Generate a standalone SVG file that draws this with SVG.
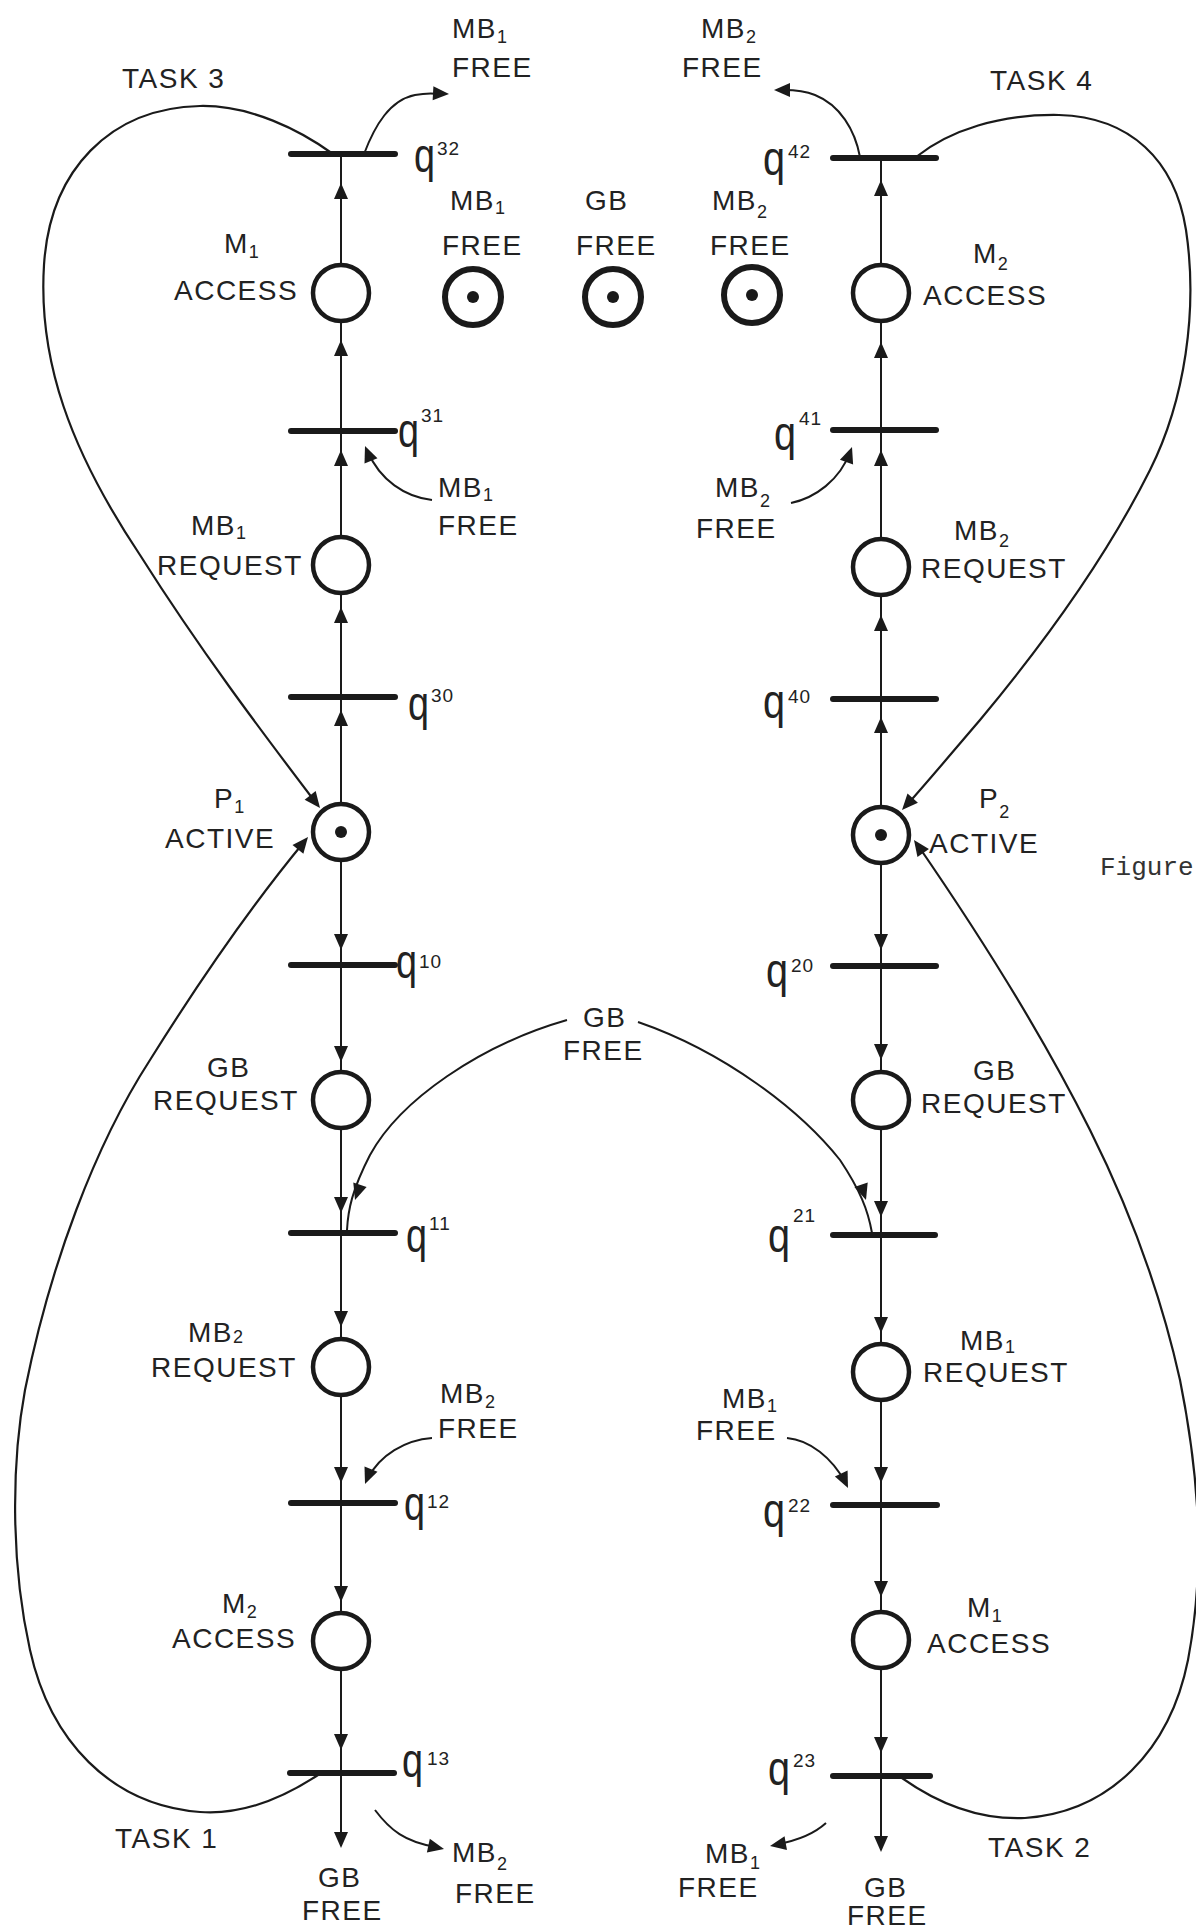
<svg xmlns="http://www.w3.org/2000/svg" width="1196" height="1928" viewBox="0 0 1196 1928">
<style>
.t{font-family:"Liberation Sans",Arial,sans-serif;font-size:28px;fill:#222;letter-spacing:1.5px}
.sb{font-size:18px;letter-spacing:0}
.q{font-family:"Liberation Sans",Arial,sans-serif;font-size:48px;fill:#222}
.sp{font-family:"Liberation Sans",Arial,sans-serif;font-size:19px;fill:#222;letter-spacing:1px}
.pl{fill:#fff;stroke:#1a1a1a;stroke-width:4.5}
.res{fill:#fff;stroke:#1a1a1a;stroke-width:6}
.tok{fill:#1a1a1a}
.bar{stroke:#1a1a1a;stroke-width:6;stroke-linecap:round}
.ln{fill:none;stroke:#1a1a1a;stroke-width:2}
.cv{fill:none;stroke:#1a1a1a;stroke-width:2.2}
.fig{font-family:"Liberation Mono","Courier New",monospace;font-size:26px;fill:#333}
</style>
<defs>
<path id="ah" d="M0,0 L-16,-7 L-16,7 Z" fill="#1a1a1a"/>
</defs>
<rect width="1196" height="1928" fill="#fff"/>

<g id="connectors">
  <line class="ln" x1="341" y1="154" x2="341" y2="1846"/>
  <line class="ln" x1="881" y1="158" x2="881" y2="1850"/>
  <use href="#ah" transform="translate(341,183) rotate(-90)"/>
  <use href="#ah" transform="translate(341,340) rotate(-90)"/>
  <use href="#ah" transform="translate(341,450) rotate(-90)"/>
  <use href="#ah" transform="translate(341,607) rotate(-90)"/>
  <use href="#ah" transform="translate(341,710) rotate(-90)"/>
  <use href="#ah" transform="translate(341,950) rotate(90)"/>
  <use href="#ah" transform="translate(341,1062) rotate(90)"/>
  <use href="#ah" transform="translate(341,1213) rotate(90)"/>
  <use href="#ah" transform="translate(341,1327) rotate(90)"/>
  <use href="#ah" transform="translate(341,1483) rotate(90)"/>
  <use href="#ah" transform="translate(341,1602) rotate(90)"/>
  <use href="#ah" transform="translate(341,1750) rotate(90)"/>
  <use href="#ah" transform="translate(341,1848) rotate(90)"/>
  <use href="#ah" transform="translate(881,180) rotate(-90)"/>
  <use href="#ah" transform="translate(881,342) rotate(-90)"/>
  <use href="#ah" transform="translate(881,450) rotate(-90)"/>
  <use href="#ah" transform="translate(881,615) rotate(-90)"/>
  <use href="#ah" transform="translate(881,717) rotate(-90)"/>
  <use href="#ah" transform="translate(881,950) rotate(90)"/>
  <use href="#ah" transform="translate(881,1060) rotate(90)"/>
  <use href="#ah" transform="translate(881,1217) rotate(90)"/>
  <use href="#ah" transform="translate(881,1333) rotate(90)"/>
  <use href="#ah" transform="translate(881,1483) rotate(90)"/>
  <use href="#ah" transform="translate(881,1597) rotate(90)"/>
  <use href="#ah" transform="translate(881,1753) rotate(90)"/>
  <use href="#ah" transform="translate(881,1852) rotate(90)"/>

  <path class="cv" d="M333,154 C300,130 250,105 200,106 C110,108 50,170 44,265 C38,360 70,450 140,555 C200,650 262,732 316,803"/>
  <use href="#ah" transform="translate(320,808) rotate(52)"/>
  <path class="cv" d="M318,1775 C280,1800 240,1815 200,1812 C110,1805 50,1740 30,1650 C10,1560 12,1460 25,1390 C50,1265 95,1145 150,1060 C200,980 252,905 304,842"/>
  <use href="#ah" transform="translate(308,837) rotate(-51)"/>
  <path class="cv" d="M916,157 C950,130 1000,114 1059,115 C1130,117 1175,160 1186,230 C1198,310 1185,400 1150,470 C1100,570 1030,660 980,720 C950,755 925,785 905,807"/>
  <use href="#ah" transform="translate(902,810) rotate(132)"/>
  <path class="cv" d="M902,1778 C940,1805 980,1820 1025,1818 C1110,1812 1170,1750 1188,1660 C1205,1570 1200,1480 1180,1380 C1160,1290 1130,1210 1090,1130 C1050,1050 990,950 917,844"/>
  <use href="#ah" transform="translate(914,840) rotate(-125)"/>

  <path class="ln" d="M567,1020 C480,1045 400,1100 370,1155 C352,1190 348,1210 347,1230"/>
  <use href="#ah" transform="translate(355,1200) rotate(108)"/>
  <path class="ln" d="M638,1022 C725,1052 800,1110 840,1160 C860,1190 868,1210 872,1233"/>
  <use href="#ah" transform="translate(866,1200) rotate(72)"/>

  <path class="ln" d="M432,500 C405,497 380,480 368,452"/>
  <use href="#ah" transform="translate(365,446) rotate(-112)"/>
  <path class="ln" d="M791,503 C815,498 840,480 850,452"/>
  <use href="#ah" transform="translate(852,447) rotate(-70)"/>
  <path class="ln" d="M432,1438 C405,1440 380,1455 368,1478"/>
  <use href="#ah" transform="translate(365,1484) rotate(112)"/>
  <path class="ln" d="M787,1438 C810,1440 832,1458 845,1482"/>
  <use href="#ah" transform="translate(848,1488) rotate(65)"/>
  <path class="ln" d="M375,1810 C390,1830 405,1842 436,1847"/>
  <use href="#ah" transform="translate(444,1849) rotate(12)"/>
  <path class="ln" d="M826,1823 C815,1833 800,1840 778,1844"/>
  <use href="#ah" transform="translate(770,1846) rotate(170)"/>
  <path class="ln" d="M364,154 C375,125 390,100 415,95 C425,93 432,93 440,94"/>
  <use href="#ah" transform="translate(449,94) rotate(3)"/>
  <path class="ln" d="M860,157 C855,130 840,105 815,95 C805,91 795,90 784,90"/>
  <use href="#ah" transform="translate(774,90) rotate(180)"/>
</g>

<g id="p-m1-access-l">
  <circle class="pl" cx="341" cy="293" r="28"/>
  <text class="t" x="224" y="253">M<tspan class="sb" dy="5">1</tspan></text>
  <text class="t" x="174" y="300">ACCESS</text>
</g>
<g id="p-mb1-request-l">
  <circle class="pl" cx="341" cy="565" r="28"/>
  <text class="t" x="191" y="535">MB<tspan class="sb" dy="4">1</tspan></text>
  <text class="t" x="157" y="575">REQUEST</text>
</g>
<g id="p-p1-active">
  <circle class="pl" cx="341" cy="832" r="28"/>
  <circle class="tok" cx="341" cy="832" r="6"/>
  <text class="t" x="214" y="808">P<tspan class="sb" dy="5">1</tspan></text>
  <text class="t" x="165" y="848">ACTIVE</text>
</g>
<g id="p-gb-request-l">
  <circle class="pl" cx="341" cy="1100" r="28"/>
  <text class="t" x="207" y="1077">GB</text>
  <text class="t" x="153" y="1110">REQUEST</text>
</g>
<g id="p-mb2-request-l">
  <circle class="pl" cx="341" cy="1367" r="28"/>
  <text class="t" x="188" y="1342">MB<tspan class="sb" dy="1">2</tspan></text>
  <text class="t" x="151" y="1377">REQUEST</text>
</g>
<g id="p-m2-access-l">
  <circle class="pl" cx="341" cy="1641" r="28"/>
  <text class="t" x="222" y="1613">M<tspan class="sb" dy="5">2</tspan></text>
  <text class="t" x="172" y="1648">ACCESS</text>
</g>

<g id="p-m2-access-r">
  <circle class="pl" cx="881" cy="293" r="28"/>
  <text class="t" x="973" y="263">M<tspan class="sb" dy="7">2</tspan></text>
  <text class="t" x="923" y="305">ACCESS</text>
</g>
<g id="p-mb2-request-r">
  <circle class="pl" cx="881" cy="567" r="28"/>
  <text class="t" x="954" y="540">MB<tspan class="sb" dy="7">2</tspan></text>
  <text class="t" x="921" y="578">REQUEST</text>
</g>
<g id="p-p2-active">
  <circle class="pl" cx="881" cy="835" r="28"/>
  <circle class="tok" cx="881" cy="835" r="6"/>
  <text class="t" x="979" y="808">P<tspan class="sb" dy="10">2</tspan></text>
  <text class="t" x="929" y="853">ACTIVE</text>
</g>
<g id="p-gb-request-r">
  <circle class="pl" cx="881" cy="1100" r="28"/>
  <text class="t" x="973" y="1080">GB</text>
  <text class="t" x="921" y="1113">REQUEST</text>
</g>
<g id="p-mb1-request-r">
  <circle class="pl" cx="881" cy="1372" r="28"/>
  <text class="t" x="960" y="1350">MB<tspan class="sb" dy="3">1</tspan></text>
  <text class="t" x="923" y="1382">REQUEST</text>
</g>
<g id="p-m1-access-r">
  <circle class="pl" cx="881" cy="1640" r="28"/>
  <text class="t" x="967" y="1617">M<tspan class="sb" dy="5">1</tspan></text>
  <text class="t" x="927" y="1653">ACCESS</text>
</g>

<g id="p-mb1-free">
  <circle class="res" cx="473" cy="297" r="28"/>
  <circle class="tok" cx="473" cy="297" r="6"/>
  <text class="t" x="450" y="210">MB<tspan class="sb" dy="4">1</tspan></text>
  <text class="t" x="442" y="255">FREE</text>
</g>
<g id="p-gb-free">
  <circle class="res" cx="613" cy="297" r="28"/>
  <circle class="tok" cx="613" cy="297" r="6"/>
  <text class="t" x="585" y="210">GB</text>
  <text class="t" x="576" y="255">FREE</text>
</g>
<g id="p-mb2-free">
  <circle class="res" cx="752" cy="295" r="28"/>
  <circle class="tok" cx="752" cy="295" r="6"/>
  <text class="t" x="712" y="210">MB<tspan class="sb" dy="8">2</tspan></text>
  <text class="t" x="710" y="255">FREE</text>
</g>

<g id="t-q32">
  <line class="bar" x1="291" y1="154" x2="395" y2="154"/>
  <text class="q" x="414" y="172" textLength="21" lengthAdjust="spacingAndGlyphs">q</text>
  <text class="sp" x="437" y="155">32</text>
</g>
<g id="t-q31">
  <line class="bar" x1="291" y1="431" x2="395" y2="431"/>
  <text class="q" x="398" y="447" textLength="21" lengthAdjust="spacingAndGlyphs">q</text>
  <text class="sp" x="421" y="422">31</text>
</g>
<g id="t-q30">
  <line class="bar" x1="291" y1="697" x2="395" y2="697"/>
  <text class="q" x="408" y="720" textLength="21" lengthAdjust="spacingAndGlyphs">q</text>
  <text class="sp" x="431" y="702">30</text>
</g>
<g id="t-q10">
  <line class="bar" x1="291" y1="965" x2="395" y2="965"/>
  <text class="q" x="396" y="978" textLength="21" lengthAdjust="spacingAndGlyphs">q</text>
  <text class="sp" x="419" y="968">10</text>
</g>
<g id="t-q11">
  <line class="bar" x1="291" y1="1233" x2="395" y2="1233"/>
  <text class="q" x="406" y="1252" textLength="21" lengthAdjust="spacingAndGlyphs">q</text>
  <text class="sp" x="429" y="1230">11</text>
</g>
<g id="t-q12">
  <line class="bar" x1="291" y1="1503" x2="395" y2="1503"/>
  <text class="q" x="404" y="1520" textLength="21" lengthAdjust="spacingAndGlyphs">q</text>
  <text class="sp" x="427" y="1508">12</text>
</g>
<g id="t-q13">
  <line class="bar" x1="290" y1="1773" x2="394" y2="1773"/>
  <text class="q" x="402" y="1777" textLength="21" lengthAdjust="spacingAndGlyphs">q</text>
  <text class="sp" x="427" y="1765">13</text>
</g>

<g id="t-q42">
  <line class="bar" x1="833" y1="158" x2="936" y2="158"/>
  <text class="q" x="763" y="175" textLength="22" lengthAdjust="spacingAndGlyphs">q</text>
  <text class="sp" x="788" y="158">42</text>
</g>
<g id="t-q41">
  <line class="bar" x1="833" y1="430" x2="936" y2="430"/>
  <text class="q" x="774" y="450" textLength="22" lengthAdjust="spacingAndGlyphs">q</text>
  <text class="sp" x="799" y="425">41</text>
</g>
<g id="t-q40">
  <line class="bar" x1="833" y1="699" x2="936" y2="699"/>
  <text class="q" x="763" y="718" textLength="22" lengthAdjust="spacingAndGlyphs">q</text>
  <text class="sp" x="788" y="703">40</text>
</g>
<g id="t-q20">
  <line class="bar" x1="833" y1="966" x2="936" y2="966"/>
  <text class="q" x="766" y="987" textLength="22" lengthAdjust="spacingAndGlyphs">q</text>
  <text class="sp" x="791" y="972">20</text>
</g>
<g id="t-q21">
  <line class="bar" x1="833" y1="1235" x2="935" y2="1235"/>
  <text class="q" x="768" y="1252" textLength="22" lengthAdjust="spacingAndGlyphs">q</text>
  <text class="sp" x="793" y="1222">21</text>
</g>
<g id="t-q22">
  <line class="bar" x1="833" y1="1505" x2="937" y2="1505"/>
  <text class="q" x="763" y="1527" textLength="22" lengthAdjust="spacingAndGlyphs">q</text>
  <text class="sp" x="788" y="1512">22</text>
</g>
<g id="t-q23">
  <line class="bar" x1="833" y1="1776" x2="930" y2="1776"/>
  <text class="q" x="768" y="1785" textLength="22" lengthAdjust="spacingAndGlyphs">q</text>
  <text class="sp" x="793" y="1767">23</text>
</g>

<g id="ref-mb1-free-top">
  <text class="t" x="452" y="38">MB<tspan class="sb" dy="5">1</tspan></text>
  <text class="t" x="452" y="77">FREE</text>
</g>
<g id="ref-mb2-free-top">
  <text class="t" x="701" y="38">MB<tspan class="sb" dy="5">2</tspan></text>
  <text class="t" x="682" y="77">FREE</text>
</g>
<g id="ref-mb1-free-q31">
  <text class="t" x="438" y="497">MB<tspan class="sb" dy="4">1</tspan></text>
  <text class="t" x="438" y="535">FREE</text>
</g>
<g id="ref-mb2-free-q41">
  <text class="t" x="715" y="497">MB<tspan class="sb" dy="10">2</tspan></text>
  <text class="t" x="696" y="538">FREE</text>
</g>
<g id="ref-gb-free-mid">
  <text class="t" x="583" y="1027">GB</text>
  <text class="t" x="563" y="1060">FREE</text>
</g>
<g id="ref-mb2-free-q12">
  <text class="t" x="440" y="1403">MB<tspan class="sb" dy="5">2</tspan></text>
  <text class="t" x="438" y="1438">FREE</text>
</g>
<g id="ref-mb1-free-q22">
  <text class="t" x="722" y="1408">MB<tspan class="sb" dy="4">1</tspan></text>
  <text class="t" x="696" y="1440">FREE</text>
</g>
<g id="ref-gb-free-bl">
  <text class="t" x="318" y="1887">GB</text>
  <text class="t" x="302" y="1920">FREE</text>
</g>
<g id="ref-mb2-free-bl">
  <text class="t" x="452" y="1862">MB<tspan class="sb" dy="8">2</tspan></text>
  <text class="t" x="455" y="1903">FREE</text>
</g>
<g id="ref-mb1-free-br">
  <text class="t" x="705" y="1863">MB<tspan class="sb" dy="6">1</tspan></text>
  <text class="t" x="678" y="1897">FREE</text>
</g>
<g id="ref-gb-free-br">
  <text class="t" x="864" y="1897">GB</text>
  <text class="t" x="847" y="1925">FREE</text>
</g>

<g id="labels">
  <text class="t" x="122" y="88">TASK 3</text>
  <text class="t" x="990" y="90">TASK 4</text>
  <text class="t" x="115" y="1848">TASK 1</text>
  <text class="t" x="988" y="1857">TASK 2</text>
  <text class="fig" x="1100" y="875">Figure</text>
</g>
</svg>
